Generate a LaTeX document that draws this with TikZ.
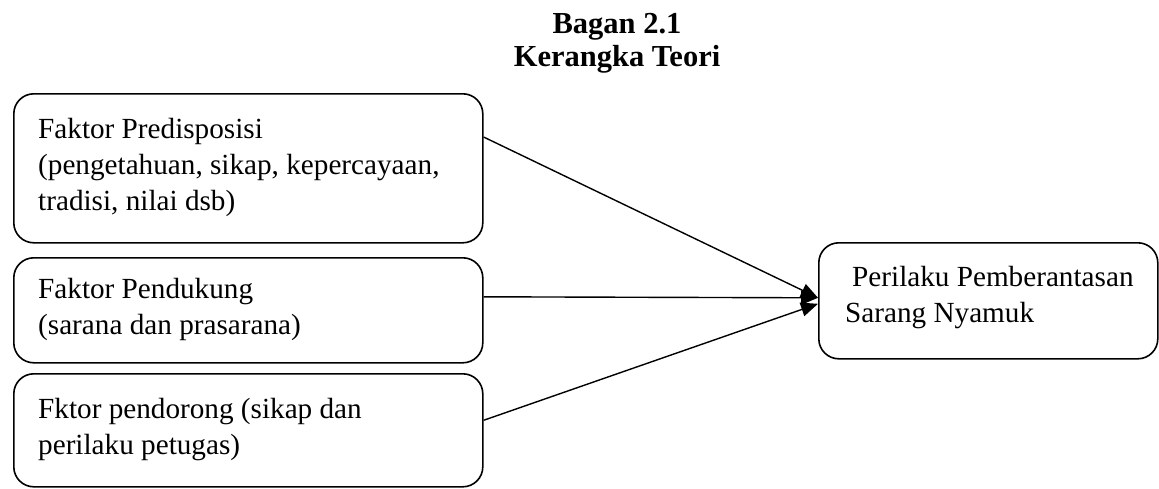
\documentclass[tikz,border=0pt]{standalone}
\usepackage{fontspec}
\setmainfont{Liberation Serif}
\usetikzlibrary{arrows.meta}
\tikzset{
  box/.style={draw, line width=1.6pt, rounded corners=20pt, anchor=north west, inner sep=0pt},
  txt/.style={anchor=west, align=left, inner sep=0pt, font=\fontsize{29.2}{36}\selectfont},
  arr/.style={line width=1.4pt, -{Triangle[length=17pt,width=14pt]}},
  ttl/.style={anchor=north, align=center, inner sep=0pt, font=\fontsize{30.5}{33}\selectfont\bfseries}
}
\begin{document}
\begin{tikzpicture}[x=1pt,y=-1pt]
\useasboundingbox (0,0) rectangle (1159,488);
\node[ttl] (title) at (617,12.7) {Bagan 2.1\\Kerangka Teori};
\node[box, minimum width=469pt, minimum height=149pt] (b1) at (13,93) {};
\node[box, minimum width=469pt, minimum height=105pt] (b2) at (13,257) {};
\node[box, minimum width=469pt, minimum height=113pt] (b3) at (13,373) {};
\node[box, minimum width=339pt, minimum height=116pt] (out) at (818,242) {};
\node[txt] (t1) at ([xshift=25pt,yshift=1pt]b1.west) {Faktor Predisposisi\\(pengetahuan, sikap, kepercayaan,\\tradisi, nilai dsb)};
\node[txt] (t2) at ([xshift=25pt,yshift=1pt]b2.west) {Faktor Pendukung\\(sarana dan prasarana)};
\node[txt] (t3) at ([xshift=25pt,yshift=1pt]b3.west) {Fktor pendorong (sikap dan\\perilaku petugas)};
\node[txt] (t4) at ([xshift=27pt,yshift=3pt]out.west) {\hspace*{7pt}Perilaku Pemberantasan\\Sarang Nyamuk};
\draw[arr] ([yshift=-44pt]b1.north east) -- ([yshift=3pt]out.west);
\draw[arr] ([yshift=13.5pt]b2.east) -- ([yshift=3pt]out.west);
\draw[arr] ([yshift=10pt]b3.east) -- ([yshift=-3pt]out.west);
\end{tikzpicture}
\end{document}
